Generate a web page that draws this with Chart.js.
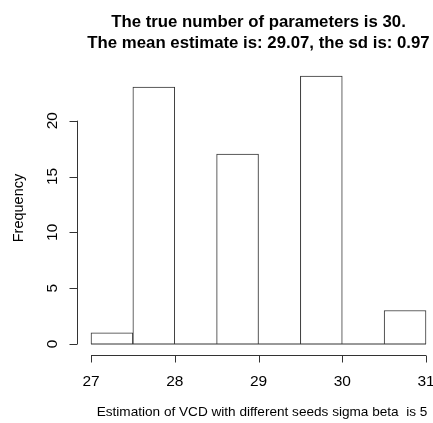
<!DOCTYPE html>
<html>
<head>
<meta charset="utf-8">
<script src="https://cdn.jsdelivr.net/npm/chart.js@4/dist/chart.umd.min.js"></script>
<style>
  html, body { margin: 0; padding: 0; background: #fff; }
  #wrap { width: 433px; height: 423px; }
</style>
</head>
<body>
<div id="wrap"><canvas id="hist"></canvas></div>
<script>
// histogram bins (half-unit wide) and counts
const binEdges = [27, 27.5, 28, 28.5, 29, 29.5, 30, 30.5, 31];
const counts = [1, 23, 0, 17, 0, 24, 0, 3];
const xTicks = [27, 28, 29, 30, 31];
const yTicks = [0, 5, 10, 15, 20];

const titleLines = ["The true number of parameters is 30.", "The mean estimate is: 29.07, the sd is: 0.97"];
const xTitle = "Estimation of VCD with different seeds sigma beta  is 5";
const yTitle = "Frequency";

const FONT = "'Liberation Sans', Arial, sans-serif";
const INK = "#333";

const barData = counts.map((c, i) => ({ x: (binEdges[i] + binEdges[i + 1]) / 2, y: c }));
const baseLine = [{ x: binEdges[0], y: 0 }, { x: binEdges[binEdges.length - 1], y: 0 }];

// R-style detached axes + titles
const rAxes = {
  id: "rAxes",
  afterDraw(chart) {
    const { ctx, chartArea, scales } = chart;
    const xs = scales.x, ys = scales.y;
    ctx.save();
    ctx.strokeStyle = INK;
    ctx.fillStyle = "#000";
    ctx.lineWidth = 1;

    // x axis
    const ay = 355.5;
    ctx.beginPath();
    ctx.moveTo(xs.getPixelForValue(xTicks[0]), ay);
    ctx.lineTo(xs.getPixelForValue(xTicks[xTicks.length - 1]), ay);
    xTicks.forEach(t => {
      const px = Math.round(xs.getPixelForValue(t)) + 0.5;
      ctx.moveTo(px, ay);
      ctx.lineTo(px, ay + 7);
    });
    ctx.stroke();
    ctx.font = "15.5px " + FONT;
    ctx.textAlign = "center";
    ctx.textBaseline = "middle";
    xTicks.forEach(t => ctx.fillText(String(t), xs.getPixelForValue(t), 382));

    // y axis
    const ax = 77.5;
    ctx.beginPath();
    ctx.moveTo(ax, ys.getPixelForValue(yTicks[0]));
    ctx.lineTo(ax, ys.getPixelForValue(yTicks[yTicks.length - 1]));
    yTicks.forEach(t => {
      const py = Math.round(ys.getPixelForValue(t)) + 0.5;
      ctx.moveTo(ax, py);
      ctx.lineTo(ax - 8, py);
    });
    ctx.stroke();
    yTicks.forEach(t => {
      ctx.save();
      ctx.translate(53, ys.getPixelForValue(t));
      ctx.rotate(-Math.PI / 2);
      ctx.fillText(String(t), 0, 0);
      ctx.restore();
    });

    // axis titles
    ctx.font = "13.6px " + FONT;
    ctx.fillText(xTitle, 262, 412);
    ctx.font = "14.5px " + FONT;
    ctx.save();
    ctx.translate(19, 208);
    ctx.rotate(-Math.PI / 2);
    ctx.fillText(yTitle, 0, 0);
    ctx.restore();

    // main title
    ctx.font = "bold 16.8px " + FONT;
    const cx = (chartArea.left + chartArea.right) / 2;
    ctx.fillText(titleLines[0], cx, 22);
    ctx.fillText(titleLines[1], cx, 43);
    ctx.restore();
  }
};

new Chart(document.getElementById("hist"), {
  type: "bar",
  data: {
    datasets: [
      {
        type: "line",
        data: baseLine,
        borderColor: INK,
        borderWidth: 1,
        pointRadius: 0,
        clip: false
      },
      {
        data: barData,
        backgroundColor: "#fff",
        borderColor: INK,
        borderWidth: 1,
        barPercentage: 1,
        categoryPercentage: 1,
        clip: false
      }
    ]
  },
  options: {
    responsive: true,
    maintainAspectRatio: false,
    animation: false,
    events: [],
    layout: { padding: { left: 91, right: 7, top: 76, bottom: 79 } },
    plugins: {
      legend: { display: false },
      title: { display: false },
      tooltip: { enabled: false }
    },
    scales: {
      x: { type: "linear", min: 27, max: 31, offset: false, display: false },
      y: { min: 0, max: 24, display: false }
    }
  },
  plugins: [rAxes]
});
</script>
</body>
</html>
